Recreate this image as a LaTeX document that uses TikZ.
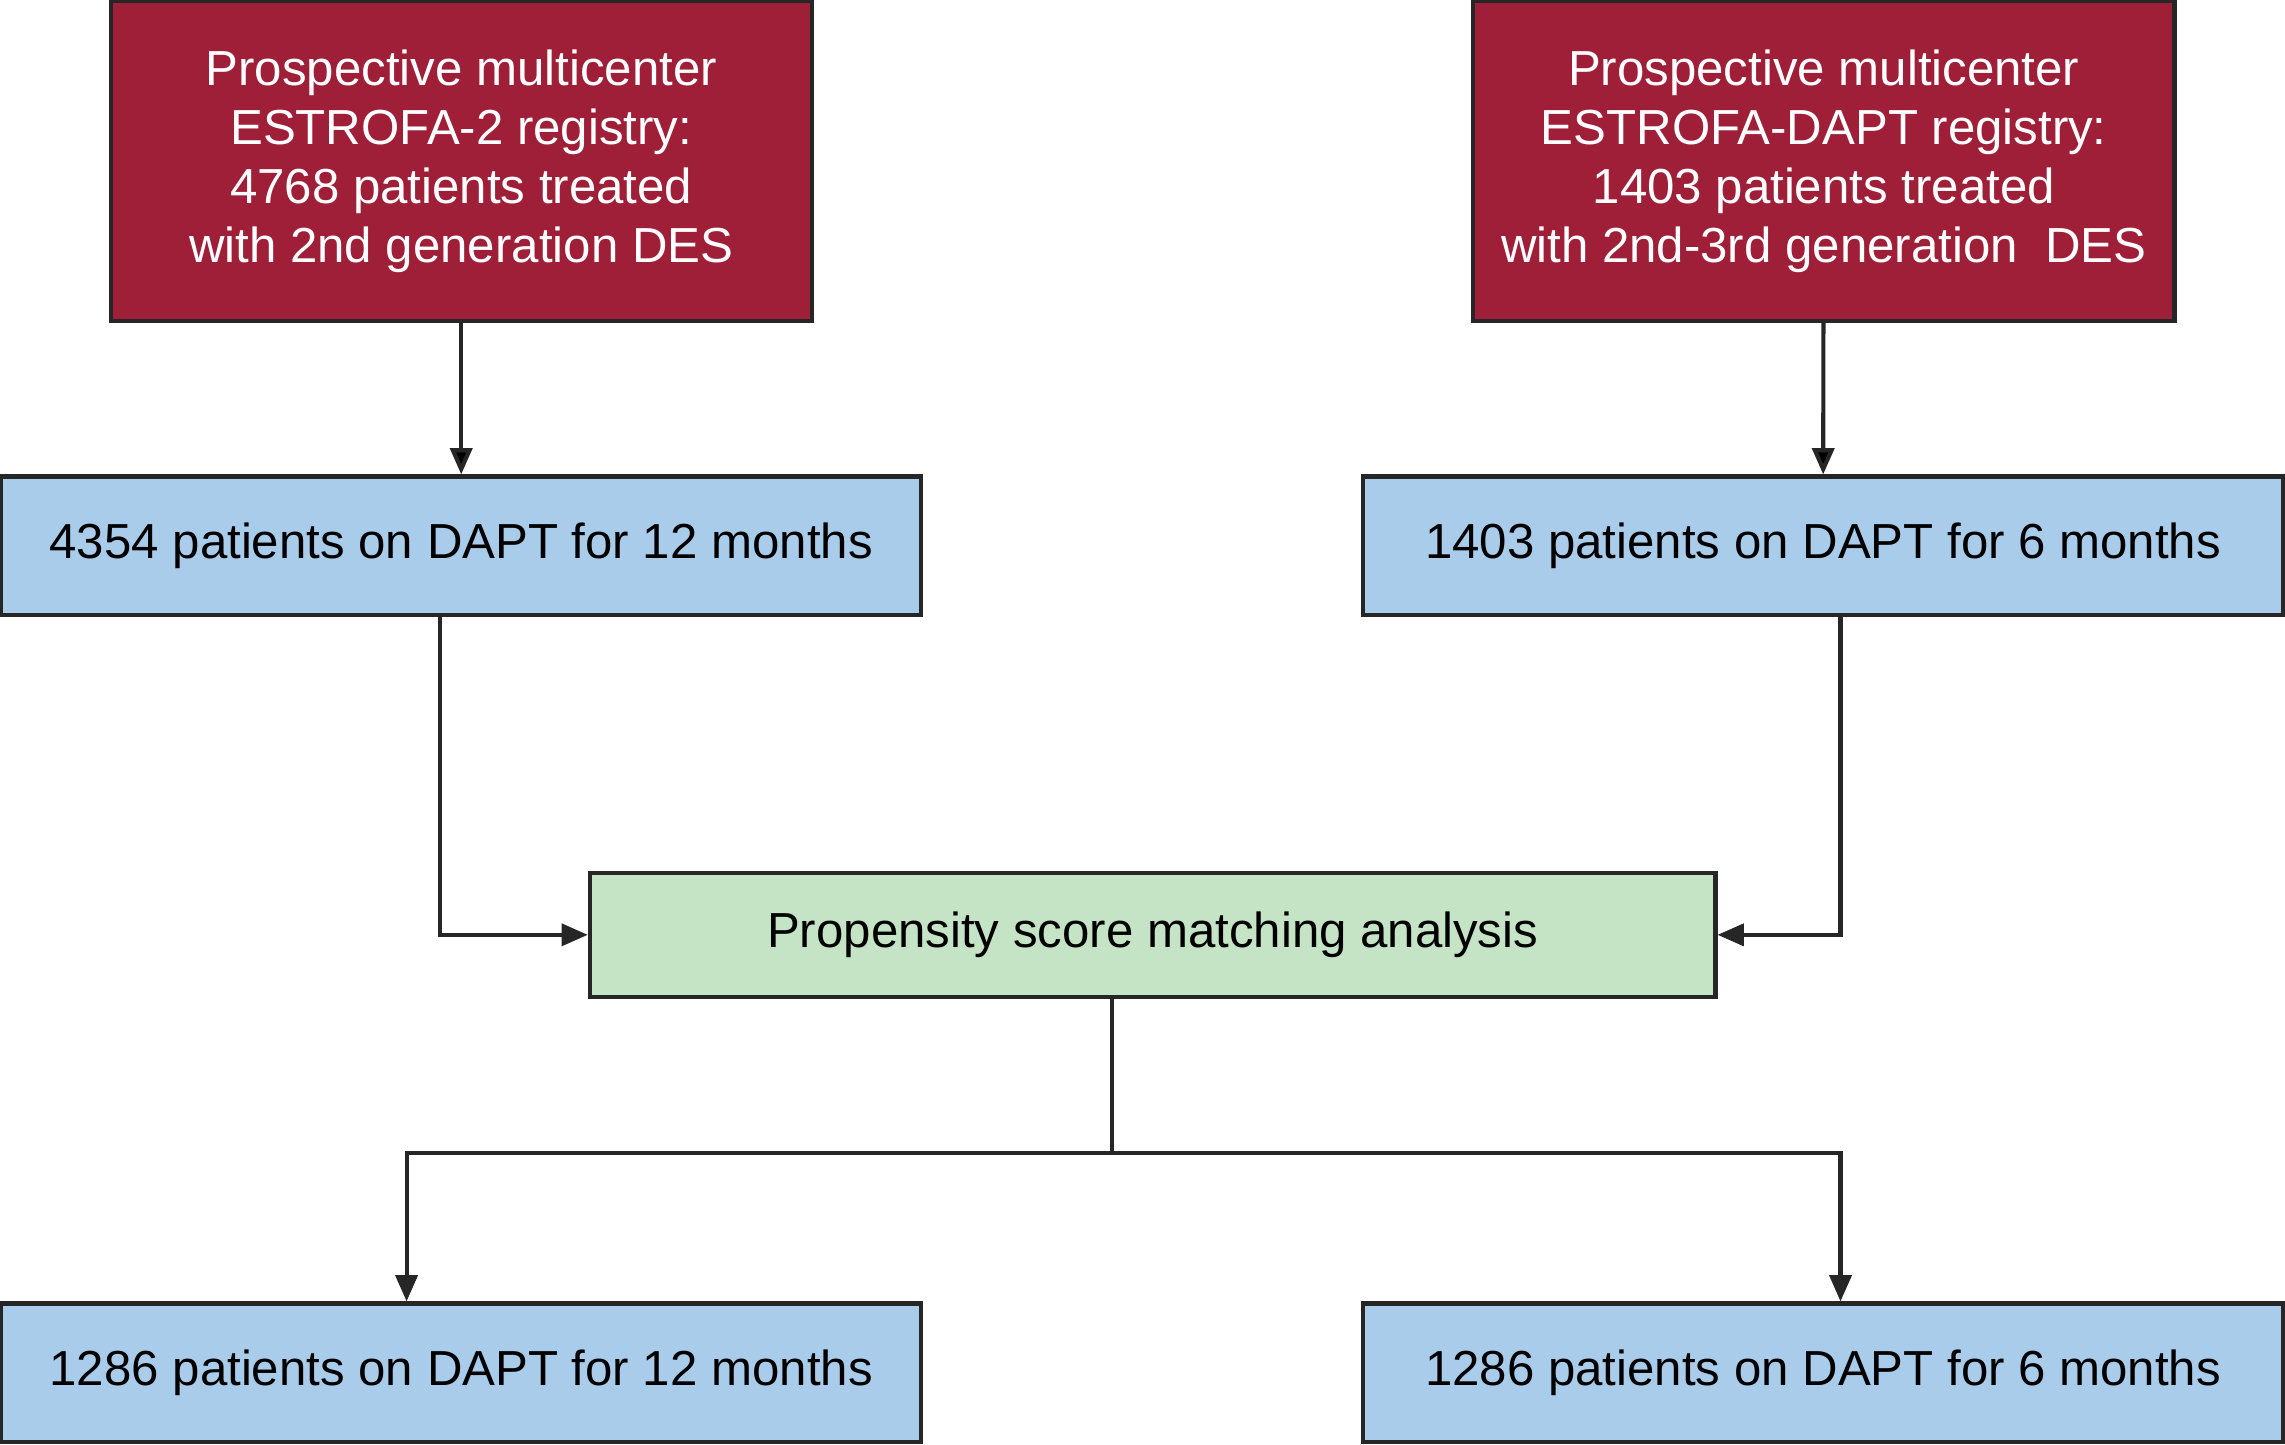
\documentclass[tikz,border=0pt]{standalone}
\usepackage{fontspec}
\setmainfont{Liberation Sans}
\usetikzlibrary{arrows.meta,positioning}
\definecolor{regred}{HTML}{9E1F37}
\definecolor{dapblue}{HTML}{AACCEB}
\definecolor{psmgreen}{HTML}{C5E3C5}
\begin{document}
\begin{tikzpicture}[x=0.01cm,y=-0.01cm,>={Triangle[length=0.18cm,width=0.15cm]},
		thick,font=\fontsize{9.6}{11.5}\selectfont,
		base node/.style={draw=black!85,line width=0.8pt,inner sep=0pt,align=center},
		reg node/.style={base node,fill=regred,text=white,minimum width=4.81cm,minimum height=2.19cm},
		dapt node/.style={base node,fill=dapblue,minimum width=6.31cm,minimum height=0.95cm},
		psm node/.style={base node,fill=psmgreen,minimum width=7.72cm,minimum height=0.85cm},
		link/.style={draw=black!85,line width=0.8pt}]
		\useasboundingbox (0,0) rectangle (1568,991);
		
		\node[reg node] (r1) at (316.5,110.5) {Prospective multicenter\\ESTROFA-2 registry:\\4768 patients treated\\with 2nd generation DES};
		\node[reg node] (r2) at (1251.5,110.5) {Prospective multicenter\\ESTROFA-DAPT registry:\\1403 patients treated\\with 2nd-3rd generation\ \ DES};
		\node[dapt node] (b1) at (316.5,374.5) {4354 patients on DAPT for 12 months};
		\node[dapt node] (b2) at (1251,374.5) {1403 patients on DAPT for 6 months};
		\node[psm node] (psm) at (791,641.5) {Propensity score matching analysis};
		\node[dapt node] (m1) at (316.5,942) {1286 patients on DAPT for 12 months};
		\node[dapt node] (m2) at (1251,942) {1286 patients on DAPT for 6 months};
		\coordinate (split) at (763,791);
		
		\path[link,->] (r1) edge (b1)
		(r2) edge (b2);
		\draw[link,->] (b1.south -| 302,0) |- (psm.west);
		\draw[link,->] (b2.south -| 1263,0) |- (psm.east);
		\draw[link] (psm.south -| split) -- (split);
		\draw[link,->] (split) -| (m1.north -| 279,0);
		\draw[link,->] (split) -| (m2.north -| 1263,0);
\end{tikzpicture}
\end{document}
